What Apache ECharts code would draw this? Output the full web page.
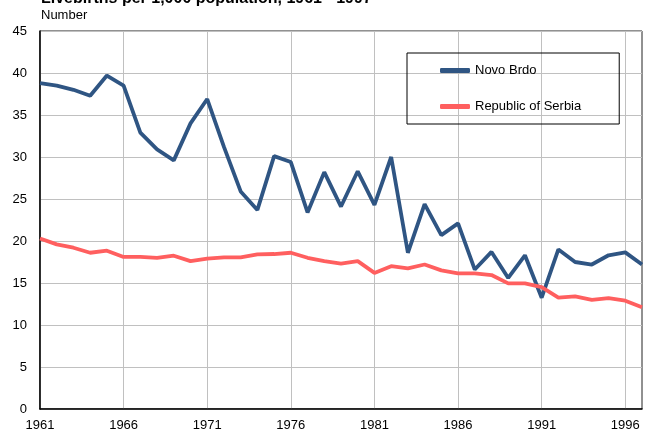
<!DOCTYPE html>
<html>
<head>
<meta charset="utf-8">
<script src="https://cdn.jsdelivr.net/npm/echarts@6/dist/echarts.min.js"></script>
<style>
  html, body { margin: 0; padding: 0; background: #fff; }
  #chart { width: 648px; height: 432px; }
</style>
</head>
<body>
<div id="chart"></div>
<script>
// years 1961 - 1997
var years = [];
for (var y = 1961; y <= 1997; y++) years.push(String(y));

// livebirths per 1,000 population
var novoBrdo = [38.8, 38.5, 38.0, 37.3, 39.7, 38.5, 32.9, 30.9, 29.6, 34.0,
    36.9, 31.2, 25.9, 23.7, 30.1, 29.4, 23.4, 28.2, 24.1, 28.3,
    24.3, 30.0, 18.6, 24.4, 20.7, 22.1, 16.6, 18.7, 15.6, 18.3,
    13.25, 19.0, 17.5, 17.2, 18.3, 18.65, 17.2];
var serbia = [20.3, 19.6, 19.2, 18.6, 18.85, 18.1, 18.1, 18.0, 18.25, 17.6,
    17.9, 18.05, 18.05, 18.4, 18.45, 18.6, 18.0, 17.6, 17.3, 17.6,
    16.2, 17.0, 16.75, 17.2, 16.5, 16.15, 16.15, 15.95, 14.95, 14.95,
    14.5, 13.25, 13.4, 13.0, 13.2, 12.9, 12.1];

var font = 'Liberation Sans, Arial, sans-serif';

var chart = echarts.init(document.getElementById('chart'));

var option = {
    animation: false,
    textStyle: { fontFamily: font },
    title: [{
        text: 'Livebirths per 1,000 population, 1961 - 1997',
        left: 36,
        top: -14,
        textStyle: { fontSize: 16, fontWeight: 'bold', color: '#000', fontFamily: font }
    }, {
        text: 'Number',
        left: 36,
        top: 4,
        textStyle: { fontSize: 13, fontWeight: 'normal', color: '#000', fontFamily: font }
    }],
    legend: {
        orient: 'vertical',
        left: 407,
        top: 53,
        padding: [11, 38, 11, 33],
        itemGap: 23,
        itemWidth: 30,
        itemHeight: 5,
        icon: 'roundRect',
        borderColor: '#000',
        borderWidth: 1,
        borderRadius: 0,
        textStyle: { fontSize: 13, color: '#000', fontFamily: font },
        data: ['Novo Brdo', 'Republic of Serbia']
    },
    grid: {
        left: 40,
        right: 6,
        top: 31,
        bottom: 23,
        show: true,
        borderColor: '#222',
        borderWidth: 1
    },
    xAxis: {
        type: 'category',
        data: years,
        boundaryGap: false,
        axisLine: { lineStyle: { color: '#000', width: 1.5 } },
        axisTick: { show: false },
        axisLabel: { interval: 4, color: '#000', fontSize: 13, margin: 10 },
        splitLine: { show: true, interval: 4, lineStyle: { color: '#c0c0c0', width: 1 } }
    },
    yAxis: {
        type: 'value',
        min: 0,
        max: 45,
        interval: 5,
        axisLine: { show: true, lineStyle: { color: '#000', width: 1.5 } },
        axisTick: { show: false },
        axisLabel: { color: '#000', fontSize: 13, margin: 13 },
        splitLine: { lineStyle: { color: '#c0c0c0', width: 1 } }
    },
    series: [{
        name: 'Novo Brdo',
        type: 'line',
        data: novoBrdo,
        symbol: 'none',
        lineStyle: { color: '#2f5583', width: 3.8 },
        itemStyle: { color: '#2f5583' }
    }, {
        name: 'Republic of Serbia',
        type: 'line',
        data: serbia,
        symbol: 'none',
        lineStyle: { color: '#ff5f5f', width: 3.8 },
        itemStyle: { color: '#ff5f5f' }
    }]
};

chart.setOption(option);
</script>
</body>
</html>
